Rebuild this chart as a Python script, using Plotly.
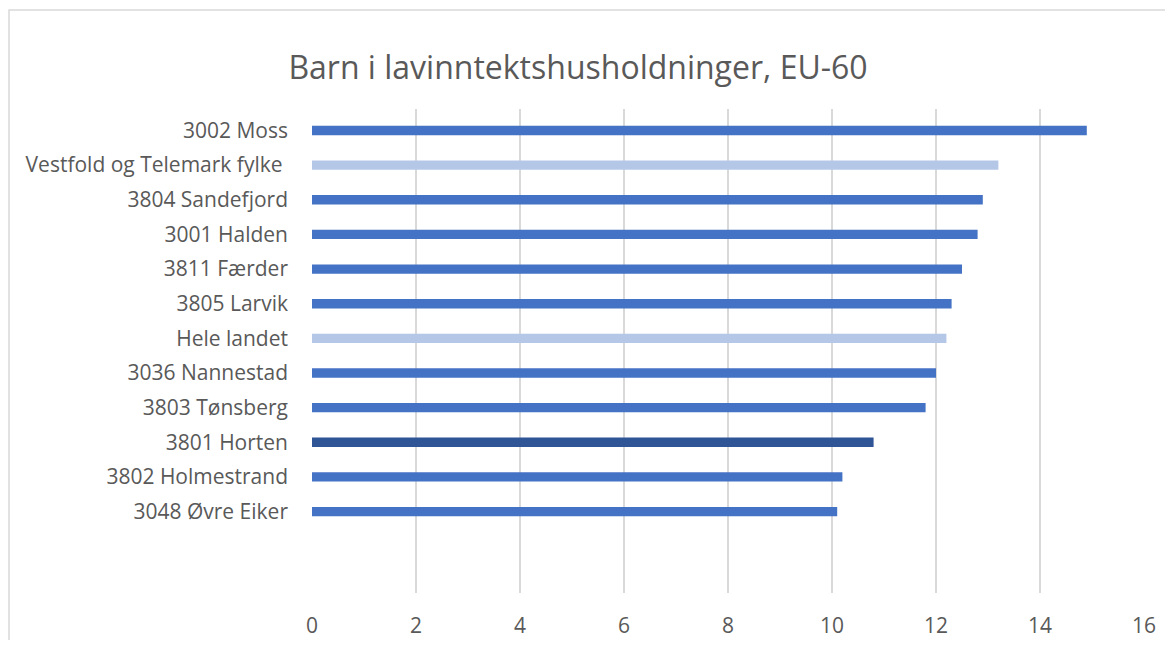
import plotly.graph_objects as go

categories = [
    "3002 Moss",
    "Vestfold og Telemark fylke ",
    "3804 Sandefjord",
    "3001 Halden",
    "3811 Færder",
    "3805 Larvik",
    "Hele landet",
    "3036 Nannestad",
    "3803 Tønsberg",
    "3801 Horten",
    "3802 Holmestrand",
    "3048 Øvre Eiker",
]
values = [14.9, 13.2, 12.9, 12.8, 12.5, 12.3, 12.2, 12.0, 11.8, 10.8, 10.2, 10.1]
colors = ["#4472C4", "#B4C7E7", "#4472C4", "#4472C4", "#4472C4", "#4472C4",
          "#B4C7E7", "#4472C4", "#4472C4", "#2F5597", "#4472C4", "#4472C4"]
x_ticks = [0, 2, 4, 6, 8, 10, 12, 14, 16]

# plotly plots first category at bottom; reverse so Moss is on top
cats_r = categories[::-1]
vals_r = values[::-1]
cols_r = colors[::-1]

fig = go.Figure(go.Bar(
    x=vals_r, y=cats_r, orientation="h",
    marker=dict(color=cols_r, line=dict(width=0)),
    width=0.27,
))

TXT = "#595959"
FONT = "Open Sans"
OFF = 8  # default page body margin
W, H = 1173 - 2 * OFF, 648 - 2 * OFF
L, T = 312 - OFF, 109 - OFF
R = W - (1144 - OFF)
B = H - (593 - OFF)
pw, ph = W - L - R, H - T - B

fig.update_layout(
    width=W, height=H,
    margin=dict(l=L, r=R, t=T, b=B, pad=0, autoexpand=False),
    paper_bgcolor="white", plot_bgcolor="white",
    showlegend=False,
    title=dict(text="Barn i lavinntektshusholdninger, EU-60",
               font=dict(family=FONT, size=32, color=TXT),
               x=(578 - OFF) / W, xanchor="center",
               y=1 - (68 - OFF) / H, yanchor="middle"),
    font=dict(family=FONT, color=TXT),
)
fig.update_xaxes(range=[0, 16], tickvals=x_ticks, showgrid=True,
                 gridcolor="#D9D9D9", gridwidth=1.5, zeroline=False,
                 showline=False, tickfont=dict(size=21, color=TXT, family=FONT),
                 ticks="", ticklabelstandoff=18, automargin=False,
                 fixedrange=True)
fig.update_yaxes(type="category", categoryorder="array", categoryarray=cats_r,
                 range=[-2.35, 11.62], showgrid=False, zeroline=False,
                 showline=False, ticks="", automargin=False,
                 tickfont=dict(size=21, color=TXT, family=FONT),
                 ticklabelstandoff=23, fixedrange=True)

# chart-area border (extends past right and bottom edges)
fig.add_shape(type="rect", xref="paper", yref="paper",
              x0=(1 - L) / pw, x1=1.2, y0=-0.3, y1=(H - B - 2) / ph,
              line=dict(color="#D9D9D9", width=1.5), fillcolor="rgba(0,0,0,0)",
              layer="below")

fig.write_html("out.html")
